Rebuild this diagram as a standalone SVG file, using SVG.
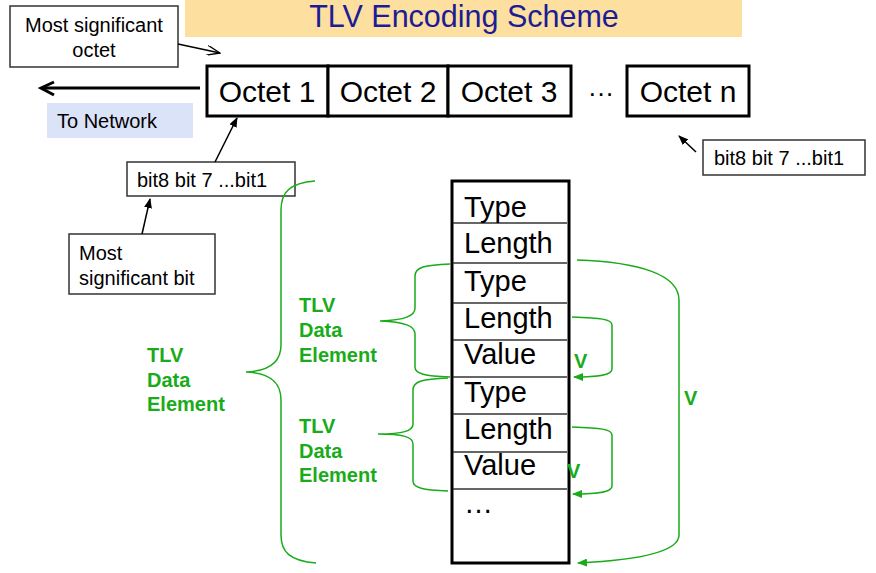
<svg xmlns="http://www.w3.org/2000/svg" width="876" height="573" viewBox="0 0 876 573">
<defs>
<style>
text{font-family:"Liberation Sans",Arial,sans-serif;fill:#000}
.box{fill:#fff;stroke:#333;stroke-width:1.5}
.oct{fill:#fff;stroke:#000;stroke-width:3}
.big{font-size:30px}
.tbl{font-size:29px}
.sm{font-size:20px}
.g{fill:#1aab1a;font-weight:bold;font-size:20px}
.gl{fill:none;stroke:#1aab1a;stroke-width:1.5}
.bl{fill:none;stroke:#000;stroke-width:1.5}
.sep{stroke:#333;stroke-width:1.5}
</style>
<marker id="ah" markerWidth="10" markerHeight="8" refX="9" refY="4" orient="auto" markerUnits="userSpaceOnUse">
<path d="M0,0 L10,4 L0,8 Z" fill="#000"/>
</marker>
<marker id="ao" markerWidth="14" markerHeight="10" refX="13" refY="5" orient="auto" markerUnits="userSpaceOnUse">
<path d="M0,0 L13,5 L0,10" fill="none" stroke="#000" stroke-width="1.3"/>
</marker>
<marker id="ag" markerWidth="10" markerHeight="8" refX="9" refY="4" orient="auto" markerUnits="userSpaceOnUse">
<path d="M0,0 L10,4 L0,8 Z" fill="#1aab1a"/>
</marker>
</defs>

<g id="title">
<rect x="185" y="0" width="557" height="37" fill="#fddf9f"/>
<text x="464" y="27" text-anchor="middle" style="font-size:30.5px;fill:#1c1c96">TLV Encoding Scheme</text>
</g>

<g id="most-sig-octet">
<rect class="box" x="10" y="6" width="168" height="61"/>
<text x="94" y="32" text-anchor="middle" class="sm">Most significant</text>
<text x="94" y="57" text-anchor="middle" class="sm">octet</text>
</g>

<g id="octet1"><rect class="oct" x="207" y="66" width="121" height="50"/><text x="267" y="102" text-anchor="middle" class="big">Octet 1</text></g>
<g id="octet2"><rect class="oct" x="328" y="66" width="120" height="50"/><text x="388" y="102" text-anchor="middle" class="big">Octet 2</text></g>
<g id="octet3"><rect class="oct" x="448" y="66" width="123" height="50"/><text x="509" y="102" text-anchor="middle" class="big">Octet 3</text></g>
<g id="dots"><text x="601" y="102" text-anchor="middle" style="font-size:26px">···</text></g>
<g id="octetn"><rect class="oct" x="627" y="66" width="122" height="50"/><text x="688" y="102" text-anchor="middle" class="big">Octet n</text></g>

<g id="to-network">
<rect x="47" y="103" width="146" height="35" fill="#dbe3f9"/>
<text x="57" y="128" style="font-size:20px">To Network</text>
</g>

<g id="bits1">
<rect class="box" x="127" y="162" width="168" height="34"/>
<text x="137" y="187" class="sm">bit8 bit 7 ...bit1</text>
</g>

<g id="most-sig-bit">
<rect class="box" x="69" y="234" width="146" height="60"/>
<text x="79" y="260" style="font-size:20px">Most</text>
<text x="79" y="285" style="font-size:20px">significant bit</text>
</g>

<g id="bits2">
<rect class="box" x="703" y="140" width="162" height="35"/>
<text x="714" y="165" class="sm">bit8 bit 7 ...bit1</text>
</g>

<g id="table">
<rect x="452" y="181" width="117" height="382" fill="#fff" stroke="#000" stroke-width="3"/>
<line class="sep" x1="453" y1="223" x2="567" y2="223"/>
<line class="sep" x1="453" y1="263" x2="567" y2="263"/>
<line class="sep" x1="453" y1="303" x2="567" y2="303"/>
<line class="sep" x1="453" y1="340" x2="567" y2="340"/>
<line class="sep" x1="453" y1="377" x2="567" y2="377"/>
<line class="sep" x1="453" y1="414" x2="567" y2="414"/>
<line class="sep" x1="453" y1="452" x2="567" y2="452"/>
<line class="sep" x1="453" y1="489" x2="567" y2="489"/>
<text x="464" y="217" class="tbl">Type</text>
<text x="464" y="253" class="tbl">Length</text>
<text x="464" y="291" class="tbl">Type</text>
<text x="464" y="328" class="tbl">Length</text>
<text x="464" y="364" class="tbl">Value</text>
<text x="464" y="402" class="tbl">Type</text>
<text x="464" y="439" class="tbl">Length</text>
<text x="464" y="475" class="tbl">Value</text>
<text x="464" y="513" class="tbl">…</text>
</g>

<g id="labels">
<text x="147" y="362" class="g">TLV</text>
<text x="147" y="387" class="g">Data</text>
<text x="147" y="411" class="g">Element</text>
<text x="299" y="312" class="g">TLV</text>
<text x="299" y="337" class="g">Data</text>
<text x="299" y="362" class="g">Element</text>
<text x="299" y="433" class="g">TLV</text>
<text x="299" y="458" class="g">Data</text>
<text x="299" y="482" class="g">Element</text>
<text x="574" y="368" class="g">V</text>
<text x="567" y="478" class="g">V</text>
<text x="684" y="405" class="g">V</text>
</g>

<g id="connectors">
<path class="bl" d="M178,44 L220,53" marker-end="url(#ao)"/>
<path d="M200,88 L42,88" stroke="#000" stroke-width="3" fill="none"/>
<path d="M54,82 L41,88 L54,95" stroke="#000" stroke-width="3" fill="none"/>
<path class="bl" d="M215,162 L237,118" marker-end="url(#ah)"/>
<path class="bl" d="M142,234 L150,199" marker-end="url(#ah)"/>
<path class="bl" d="M696,152 L679,136" marker-end="url(#ah)"/>
<path class="gl" d="M315,181 C290,183 281,192 281,210 L281,345 C281,362 270,371 246,372 C270,373 281,382 281,400 L281,535 C281,552 290,561 316,563"/>
<path class="gl" d="M450,264 C425,265 415,267 415,276 L415,308 C415,316 405,320 380,321 C405,322 415,326 415,334 L415,367 C415,374 425,376 450,377"/>
<path class="gl" d="M448,378 C423,379 413,381 413,390 L413,424 C413,431 403,434 378,434 C403,434 413,437 413,444 L413,481 C413,488 423,490 448,491"/>
<path class="gl" d="M572,317 C600,318 612,319 612,325 L612,369 C612,375 600,377 574,377" marker-end="url(#ag)"/>
<path class="gl" d="M572,427 C600,428 612,429 612,435 L612,486 C612,492 600,494 573,494" marker-end="url(#ag)"/>
<path class="gl" d="M577,260 C640,262 679,275 679,300 L679,535 C679,552 640,560 578,563" marker-end="url(#ag)"/>
</g>
</svg>
